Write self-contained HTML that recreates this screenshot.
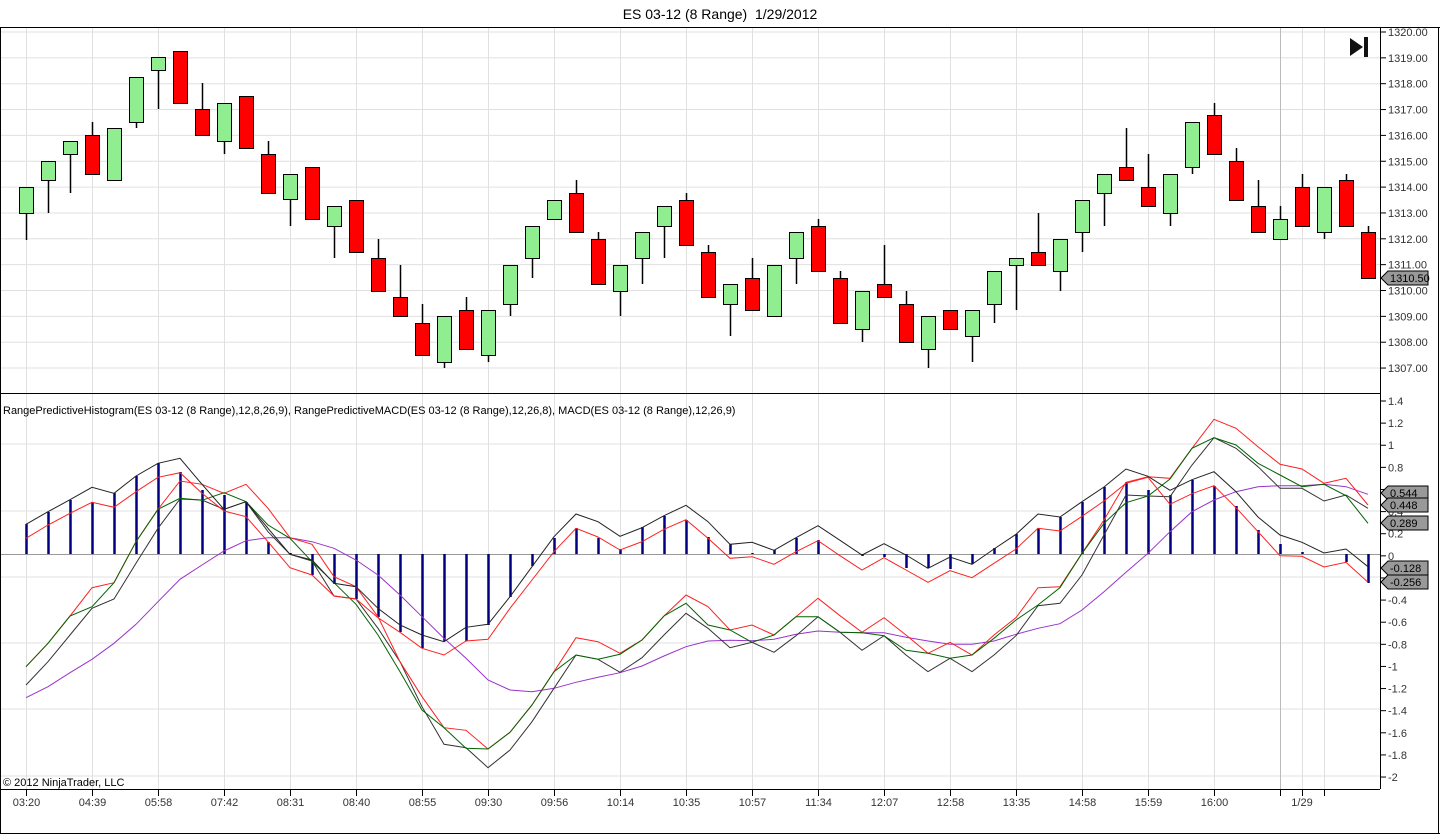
<!DOCTYPE html>
<html><head><meta charset="utf-8"><style>
html,body{margin:0;padding:0;background:#fff;width:1440px;height:835px;overflow:hidden}
svg{display:block}
text{font-family:"Liberation Sans",Arial,sans-serif}
</style></head><body>
<svg id="s" width="1440" height="835" xmlns="http://www.w3.org/2000/svg"></svg>
<script>
var S=document.getElementById('s'),o='';
function L(x1,y1,x2,y2,c,w){o+='<line x1="'+x1+'" y1="'+y1+'" x2="'+x2+'" y2="'+y2+'" stroke="'+c+'" stroke-width="'+(w||1)+'"/>';}
function T(x,y,t,sz,a,c){o+='<text x="'+x+'" y="'+y+'" font-size="'+sz+'" text-anchor="'+(a||'start')+'" fill="'+(c||'#000')+'">'+t+'</text>';}
var X=function(i){return 26+22*i;};
var PR=1380,PT=27,PB=393,IB=789;
for(var p=1307;p<=1320;p++){var y=32+(1320-p)*25.85;L(0,y,PR,y,'#e0e0e0');}
var ig=[444,511,577,643,709,776];ig.forEach(function(y){L(0,y,PR,y,'#e0e0e0');});
for(var i=0;i<=57;i+=3){L(X(i)+.5,PT,X(i)+.5,IB,'#e0e0e0');}
L(1302.5,PT,1302.5,IB,'#e0e0e0');L(1324.5,PT,1324.5,IB,'#e0e0e0');
L(1280.5,PT,1280.5,IB,'#bbb');
L(0,554.5,PR,554.5,'#999');
var C=[[187,213,187,240,1],[161,180,161,213,1],[141,154,141,193,1],[135,174,122,174,0],[128,180,128,180,1],[77,122,77,128,1],[57,70,57,109,1],[51,103,51,103,0],[109,135,83,135,0],[103,141,103,154,1],[96,148,96,148,0],[154,193,141,193,0],[174,199,174,226,1],[167,219,167,219,0],[206,226,206,258,1],[200,252,200,252,0],[258,291,239,291,0],[297,316,265,316,0],[323,355,304,355,0],[316,362,316,368,1],[310,349,297,349,0],[310,355,310,362,1],[265,304,265,316,1],[226,258,226,278,1],[200,219,200,219,1],[193,232,180,232,0],[239,284,232,284,0],[265,291,265,316,1],[232,258,232,284,1],[206,226,206,258,1],[200,245,193,245,0],[252,297,245,297,0],[284,304,284,336,1],[278,310,258,310,0],[265,316,265,316,1],[232,258,232,284,1],[226,271,219,271,0],[278,323,271,323,0],[291,329,291,342,1],[284,297,245,297,0],[304,342,291,342,0],[316,349,316,368,1],[310,329,310,329,0],[310,336,310,362,1],[271,304,271,323,1],[258,265,258,310,1],[252,265,213,265,0],[239,271,239,291,1],[200,232,200,252,1],[174,193,174,226,1],[167,180,128,180,0],[187,206,154,206,0],[174,213,174,226,1],[122,167,122,174,1],[115,154,103,154,0],[161,200,148,200,0],[206,232,180,232,0],[219,239,206,239,1],[187,226,174,226,0],[187,232,187,239,1],[180,226,174,226,0],[232,278,226,278,0]];
C.forEach(function(c,i){var x=X(i);L(x+.5,c[2],x+.5,c[3],'#000',1.5);o+='<rect x="'+(x-7)+'.5" y="'+c[0]+'.5" width="14" height="'+(c[1]-c[0])+'" fill="'+(c[4]?'#90ee90':'#ff0000')+'" stroke="#000" stroke-width="1"/>';});
var H=[524,512,500,502,493,476,463,472,490,495,502,542,553,575,584,599,617,632,648,641,641,625,597,566,538,528,538,549,527,516,520,537,544,553,550,538,540,554,556,557,568,568,569,564,548,534,528,517,502,487,482,490,495,480,486,506,530,544,552,554,562,583];
H.forEach(function(h,i){L(X(i)+.5,554,X(i)+.5,h,'#000080',2.5);});
function zl(a){return a.map(function(v){return 395+v/3;});}
function poly(ys,c){var pts=ys.map(function(y,i){return X(i)+','+y.toFixed(1);}).join(' ');o+='<polyline points="'+pts+'" fill="none" stroke="'+c+'" stroke-width="1"/>';}
var bu=zl([388,350,314,277,295,243,205,190,268,343,320,400,478,495,565,575,640,690,720,740,697,688,605,515,425,357,380,424,398,362,331,380,448,442,466,428,392,436,480,446,480,520,486,508,462,418,357,366,320,276,222,244,286,254,230,290,366,420,442,474,462,515]);
var ru=zl([430,390,355,322,337,290,247,233,295,348,365,440,518,540,603,612,668,712,760,780,738,733,640,555,470,400,426,465,440,403,374,430,490,485,508,470,437,482,525,488,525,562,527,548,505,462,400,408,364,318,265,247,328,296,272,338,410,482,484,516,502,562]);
var gl=zl([815,745,663,635,563,440,343,310,316,293,320,390,430,500,563,628,720,830,945,998,1060,1062,1012,930,830,780,793,778,735,663,625,690,705,742,720,665,665,712,713,722,766,775,790,780,730,675,630,578,475,385,323,303,252,160,128,150,205,240,275,268,302,385]);
var rl=zl([815,745,663,578,563,440,343,258,268,295,268,340,428,448,545,575,665,800,905,998,1006,1062,1012,930,830,728,740,775,735,663,600,635,705,690,720,665,610,662,712,668,720,775,742,780,720,668,578,575,475,375,262,245,250,160,73,100,155,208,222,265,250,330]);
var kl=zl([870,800,720,640,612,505,400,312,315,343,320,410,478,498,603,612,700,800,935,1048,1058,1118,1065,980,880,780,793,832,788,720,655,700,758,742,772,722,665,712,766,722,780,830,790,830,780,722,632,625,540,420,300,303,305,210,128,160,215,280,280,318,300,340]);
var pl=zl([908,875,833,793,745,688,620,553,510,468,437,428,428,440,460,495,540,600,665,730,790,855,885,890,880,862,847,833,813,783,755,738,736,737,733,718,708,712,713,713,727,738,748,748,738,718,700,686,645,590,532,475,410,350,315,290,275,272,272,268,275,298]);
poly(pl,'#9932cc');poly(kl,'#333');poly(rl,'#ff2020');poly(gl,'#006400');poly(bu,'#222');poly(ru,'#ff2020');
L(0,PT+.5,1440,PT+.5,'#000');L(.5,PT,.5,834,'#000');L(1438.5,PT,1438.5,834,'#000');L(0,833.5,1440,833.5,'#000');
L(PR+.5,PT,PR+.5,IB,'#000');L(0,PB+.5,PR,PB+.5,'#000');L(0,IB+.5,PR,IB+.5,'#000');
for(var p=1307;p<=1320;p++){var y=32+(1320-p)*25.85;L(PR,y,PR+6,y,'#000');T(PR+8,y+4,p+'.00',11,'start','#333');}
for(var k=0;k<18;k++){var v=1.4-0.2*k;var y=401+k*22.12;L(PR,y,PR+6,y,'#000');var s=(Math.round(v*10)/10);s=(s==0?'0':String(s));T(PR+8,y+4,s,11,'start','#333');}
function mk(y,t){o+='<path d="M1381,'+y+' L1388,'+(y-7)+' L1428,'+(y-7)+' L1428,'+(y+7)+' L1388,'+(y+7)+' Z" fill="#999" stroke="#000"/>';T(1390,y+4,t,11,'start','#000');}
mk(278,'1310.50');mk(493,'0.544');mk(505,'0.448');mk(523,'0.289');mk(568,'-0.128');mk(582,'-0.256');
var tl=['03:20','04:39','05:58','07:42','08:31','08:40','08:55','09:30','09:56','10:14','10:35','10:57','11:34','12:07','12:58','13:35','14:58','15:59','16:00'];
tl.forEach(function(t,i){var x=X(i*3)+.5;L(x,IB,x,IB+7,'#000');T(x,806,t,11,'middle','#333');});
[1280.5,1302.5,1324.5].forEach(function(x){L(x,IB,x,IB+7,'#000');});T(1302,806,'1/29',11,'middle','#333');
T(720,19,'ES 03-12 (8 Range)&#160; 1/29/2012',14,'middle','#000');
T(3,414,'RangePredictiveHistogram(ES 03-12 (8 Range),12,8,26,9), RangePredictiveMACD(ES 03-12 (8 Range),12,26,8), MACD(ES 03-12 (8 Range),12,26,9)',11,'start','#000');
T(3,786,'© 2012 NinjaTrader, LLC',11,'start','#000');
o+='<path d="M1350,38 L1363,47 L1350,56 Z" fill="#111"/><rect x="1364" y="37" width="4" height="20" fill="#111"/>';
S.innerHTML=o;
</script>
</body></html>
